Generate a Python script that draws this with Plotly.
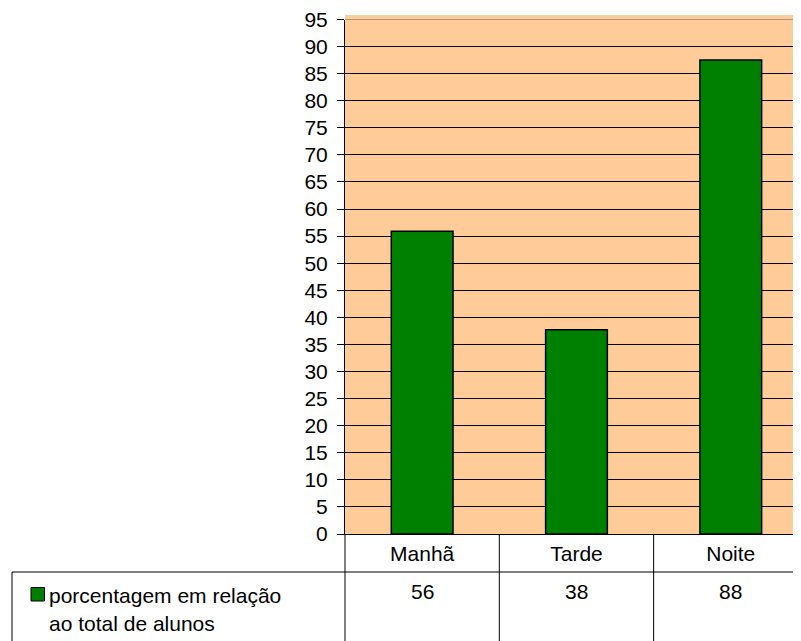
import plotly.graph_objects as go

categories = ["Manhã", "Tarde", "Noite"]
values = [55.9, 37.7, 87.5]
table_labels = ["56", "38", "88"]
series_name_lines = ["porcentagem em relação", "ao total de alunos"]
y_ticks = list(range(0, 100, 5))
y_max = 95

OFF = 8  # page body margin: figure starts 8px in from the window corner
W, H = 801 - OFF, 641 - OFF

def px_x(x):
    return (x - OFF) / W

def px_y(y):
    return (H - (y - OFF)) / H

FONT = "Liberation Sans, Arial, sans-serif"
FS = 21
PEACH = "#FFCC99"
GREEN = "#008000"

fig = go.Figure()
fig.add_trace(go.Bar(
    x=categories, y=values, width=0.4,
    marker=dict(color=GREEN, line=dict(color="black", width=1.5)),
    showlegend=False, hoverinfo="x+y",
))

shapes = []
# small peach strip above the top gridline
shapes.append(dict(type="rect", xref="paper", yref="paper",
                   x0=px_x(345), x1=1, y0=px_y(19.5), y1=px_y(15),
                   fillcolor=PEACH, line=dict(width=0), layer="below"))
# top gridline (edge of range)
shapes.append(dict(type="line", xref="paper", yref="y",
                   x0=px_x(345), x1=1, y0=y_max, y1=y_max,
                   line=dict(color="#555555", width=1)))
# data table lines
for xv in [0.5, 1.5]:
    shapes.append(dict(type="line", xref="x", yref="paper",
                       x0=xv, x1=xv, y0=0, y1=px_y(534),
                       line=dict(color="black", width=1)))
shapes.append(dict(type="line", xref="paper", yref="paper",
                   x0=px_x(345), x1=px_x(345), y0=0, y1=px_y(534),
                   line=dict(color="black", width=1)))
shapes.append(dict(type="line", xref="paper", yref="paper",
                   x0=px_x(12), x1=1, y0=px_y(572), y1=px_y(572),
                   line=dict(color="black", width=1)))
shapes.append(dict(type="line", xref="paper", yref="paper",
                   x0=px_x(12), x1=px_x(12), y0=0, y1=px_y(572),
                   line=dict(color="black", width=1)))
# legend key square
shapes.append(dict(type="rect", xref="paper", yref="paper",
                   x0=px_x(31), x1=px_x(44.5), y0=px_y(601), y1=px_y(587.5),
                   fillcolor=GREEN, line=dict(color="black", width=1)))

annotations = []
for c, lbl in zip(categories, table_labels):
    annotations.append(dict(x=c, xref="x", y=px_y(591), yref="paper",
                            text=lbl, showarrow=False, xanchor="center",
                            yanchor="middle", font=dict(family=FONT, size=FS, color="black")))
for i, line in enumerate(series_name_lines):
    annotations.append(dict(x=px_x(47), xref="paper", y=px_y(595 + 28.3 * i), yref="paper",
                            text=line, showarrow=False, xanchor="left",
                            yanchor="middle", font=dict(family=FONT, size=FS, color="black")))

fig.update_layout(
    template="none",
    width=W, height=H,
    autosize=False,
    margin=dict(l=0, r=0, t=0, b=0, pad=0),
    paper_bgcolor="white",
    plot_bgcolor=PEACH,
    font=dict(family=FONT, size=FS, color="black"),
    showlegend=False,
    xaxis=dict(
        domain=[px_x(345), 1],
        range=[-0.5, 2.455],
        automargin=False,
        showline=True, linecolor="black", linewidth=1,
        ticks="", showgrid=False, zeroline=False,
        tickfont=dict(family=FONT, size=FS, color="black"),
        ticklabelstandoff=1,
        ticklabeloverflow="allow",
    ),
    yaxis=dict(
        domain=[px_y(534), px_y(19.5)],
        range=[0, y_max],
        tickvals=y_ticks,
        automargin=False,
        showline=True, linecolor="black", linewidth=1,
        ticks="outside", ticklen=7, tickcolor="black", tickwidth=1,
        showgrid=True, gridcolor="black", gridwidth=1,
        zeroline=False,
        tickfont=dict(family=FONT, size=FS, color="black"),
        ticklabelstandoff=5,
        ticklabeloverflow="allow",
    ),
    shapes=shapes,
    annotations=annotations,
)

fig.write_html("out.html")
